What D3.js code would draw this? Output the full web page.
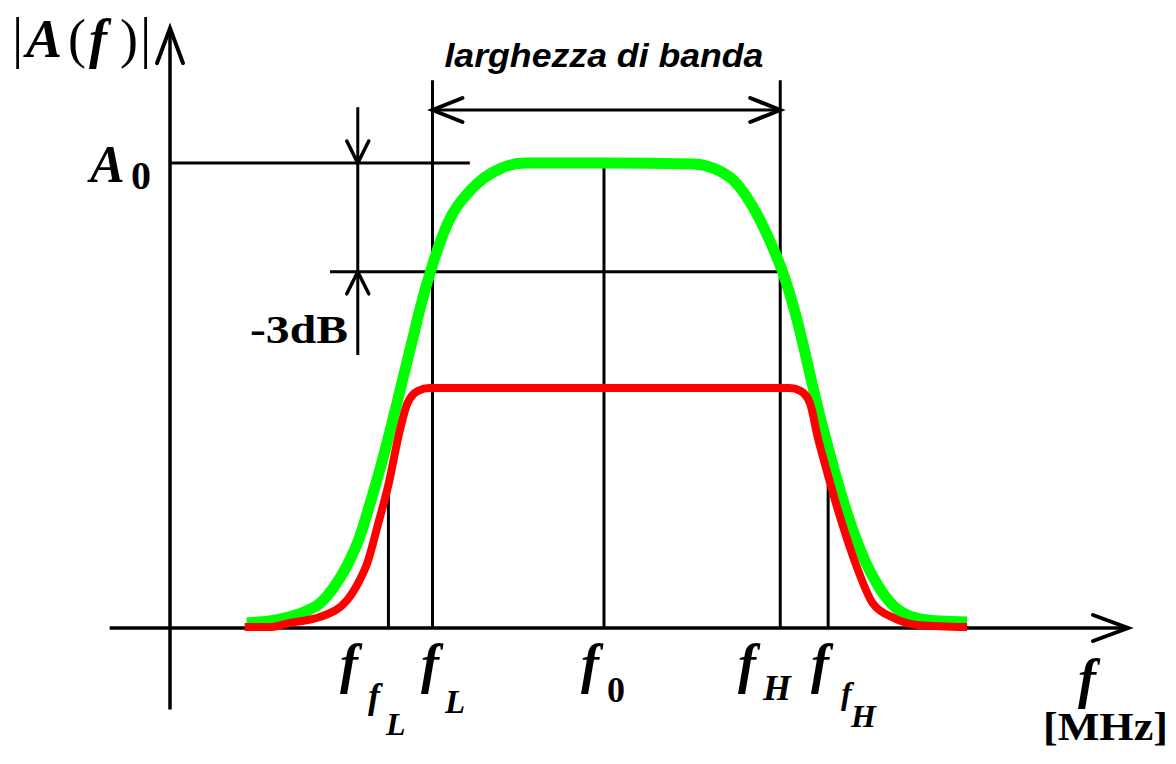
<!DOCTYPE html>
<html>
<head>
<meta charset="utf-8">
<script src="https://cdn.jsdelivr.net/npm/d3@7"></script>
<style>
  html, body { margin: 0; padding: 0; background: #ffffff; }
  svg { display: block; }
</style>
</head>
<body>
<svg id="chart" width="1176" height="764"></svg>
<script>
// Band-pass response |A(f)|: wide filter (green) and the narrower stage (red).
// Frequency in arbitrary units along the axis, amplitude normalised to A0 = 1.
const greenFreq = [8.0, 10.4, 12.5, 14.3, 15.7, 17.0, 18.5, 19.8, 20.9, 21.9, 23.0, 24.2, 25.3, 26.2, 27.3, 29.0, 31.4, 34.6, 37.1, 45.3, 54.6, 56.7, 58.8, 60.2, 61.6, 62.9, 64.0, 65.4, 66.7, 67.5, 68.4, 69.4, 70.4, 71.5, 72.6, 73.8, 75.5, 77.8, 80.4, 83.2];
const greenAmp  = [0.011, 0.015, 0.024, 0.037, 0.054, 0.085, 0.135, 0.196, 0.269, 0.340, 0.426, 0.527, 0.619, 0.695, 0.774, 0.871, 0.942, 0.989, 1.0, 1.0, 0.998, 0.989, 0.963, 0.927, 0.877, 0.819, 0.763, 0.667, 0.555, 0.484, 0.411, 0.335, 0.265, 0.198, 0.142, 0.095, 0.048, 0.022, 0.015, 0.013];

const redFreq = [7.8, 10.4, 12.5, 15.7, 18.5, 19.8, 20.6, 21.7, 22.8, 24.0, 24.8, 25.9, 27.1, 45.3, 64.7, 65.8, 66.8, 67.6, 68.6, 69.6, 70.7, 71.9, 73.3, 75.5, 78.3, 83.2];
const redAmp  = [0.002, 0.002, 0.011, 0.024, 0.060, 0.103, 0.140, 0.222, 0.308, 0.426, 0.484, 0.510, 0.516, 0.516, 0.516, 0.510, 0.484, 0.411, 0.335, 0.262, 0.190, 0.120, 0.055, 0.022, 0.006, 0.002];

// Characteristic frequencies marked on the axis
const markFreq = { ffL: 22.8, fL: 27.4, f0: 45.3, fH: 63.7, ffH: 68.7 };
const A0 = 1.0;
const cutoffLevel = 0.766;      // level of the -3 dB line as drawn
const ffLevel = 0.308;          // where the f_f guide lines meet the red curve

// Axis extents (data units)
const xAxisExtent = [-6.3, 100];
const yAxisExtent = [-0.175, 1.29];

const svg = d3.select('#chart');
const x = d3.scaleLinear().domain([0, 100]).range([170, 1128]);
const y = d3.scaleLinear().domain([0, 1]).range([628, 163]);

const ink = '#000';
const serif = "'Liberation Serif', 'Times New Roman', serif";
const sans = "'Liberation Sans', Arial, sans-serif";

const guides = svg.append('g').attr('stroke', ink).attr('stroke-width', 3).attr('fill', 'none');

function seg(x1, y1, x2, y2, w) {
  guides.append('line').attr('x1', x1).attr('y1', y1).attr('x2', x2).attr('y2', y2)
    .attr('stroke-width', w || 3);
}
// open V arrowhead with tip at (tx,ty) pointing along (dx,dy)
function chevron(tx, ty, dx, dy, len, half, w) {
  const px = -dy, py = dx;
  const p = d3.path();
  p.moveTo(tx - dx * len + px * half, ty - dy * len + py * half);
  p.lineTo(tx, ty);
  p.lineTo(tx - dx * len - px * half, ty - dy * len - py * half);
  guides.append('path').attr('d', p.toString()).attr('stroke-width', w || 3.5)
    .attr('stroke-linejoin', 'miter').attr('stroke-linecap', 'round');
}

// axes
seg(x(xAxisExtent[0]), y(0), x(xAxisExtent[1]), y(0), 3.5);
seg(x(0), y(yAxisExtent[0]), x(0), y(yAxisExtent[1]), 3.5);
chevron(x(xAxisExtent[1]), y(0), 1, 0, 35, 13, 4);
chevron(x(0), y(yAxisExtent[1]), 0, -1, 35, 13, 4);

// guide lines
const bandTop = 1.178, bandArrow = 1.114;
seg(x(markFreq.fL), y(bandTop), x(markFreq.fL), y(0));
seg(x(markFreq.fH), y(bandTop), x(markFreq.fH), y(0));
seg(x(markFreq.f0), y(A0), x(markFreq.f0), y(0));
seg(x(markFreq.ffL), y(ffLevel), x(markFreq.ffL), y(0));
seg(x(markFreq.ffH), y(ffLevel), x(markFreq.ffH), y(0));
seg(x(0), y(A0), x(31.3), y(A0));
seg(x(16.7), y(cutoffLevel), x(markFreq.fH), y(cutoffLevel));

// bandwidth double arrow
seg(x(markFreq.fL), y(bandArrow), x(markFreq.fH), y(bandArrow));
chevron(x(markFreq.fL), y(bandArrow), -1, 0, 30, 12, 4);
chevron(x(markFreq.fH), y(bandArrow), 1, 0, 30, 12, 4);

// -3 dB dimension marker
const dbX = 19.6;
seg(x(dbX), y(1.12), x(dbX), y(0.587));
chevron(x(dbX), y(A0), 0, 1, 22, 11, 3.5);
chevron(x(dbX), y(cutoffLevel), 0, -1, 22, 11, 3.5);

// response curves
const line = d3.line().x(d => x(d[0])).y(d => y(d[1])).curve(d3.curveMonotoneX);
svg.append('path').datum(d3.zip(greenFreq, greenAmp)).attr('d', line)
  .attr('fill', 'none').attr('stroke', '#00ff00').attr('stroke-width', 11).attr('stroke-linejoin', 'round');
svg.append('path').datum(d3.zip(redFreq, redAmp)).attr('d', line)
  .attr('fill', 'none').attr('stroke', '#ff0000').attr('stroke-width', 8).attr('stroke-linejoin', 'round');

// text helpers
function txt(s, tx, ty, size, opts) {
  opts = opts || {};
  const t = svg.append('text').attr('x', tx).attr('y', ty).text(s)
    .attr('font-family', opts.family || serif).attr('font-size', size)
    .attr('font-weight', opts.weight || 'bold').attr('font-style', opts.style || 'normal')
    .attr('fill', ink);
  if (opts.anchor) t.attr('text-anchor', opts.anchor);
  if (opts.len) t.attr('textLength', opts.len).attr('lengthAdjust', 'spacingAndGlyphs');
  return t;
}

// y label |A(f)|
txt('|', 12, 57, 56, { weight: 'normal' });
txt('A', 26, 57, 54, { style: 'italic' });
txt('(', 68, 57, 54, { weight: 'normal' });
txt('f', 89, 57, 54, { style: 'italic' });
txt(')', 120, 57, 54, { weight: 'normal' });
txt('|', 140, 57, 56, { weight: 'normal' });

// A0
txt('A', 90, 182, 52, { style: 'italic' });
txt('0', 131, 189, 40);

// -3dB
txt('-3dB', 250, 343, 40, { len: 98 });

// title
txt('larghezza di banda', x(markFreq.f0), 67, 34, { family: sans, style: 'italic', anchor: 'middle', len: 319 });

// frequency labels
const fSize = 54;
txt('f', 340, 682, fSize, { style: 'italic' });
txt('f', 368, 708, 36, { style: 'italic' });
txt('L', 386, 735, 32, { style: 'italic' });

txt('f', 421, 682, fSize, { style: 'italic' });
txt('L', 445, 713, 33, { style: 'italic' });

txt('f', 581, 682, fSize, { style: 'italic' });
txt('0', 607, 702, 36);

txt('f', 738, 682, fSize, { style: 'italic' });
txt('H', 763, 700, 36, { style: 'italic' });

txt('f', 811, 682, fSize, { style: 'italic' });
txt('f', 841, 704, 32, { style: 'italic' });
txt('H', 851, 727, 32, { style: 'italic' });

txt('f', 1078, 697, fSize, { style: 'italic' });
txt('[MHz]', 1043, 740, 40, { len: 125 });
</script>
</body>
</html>
